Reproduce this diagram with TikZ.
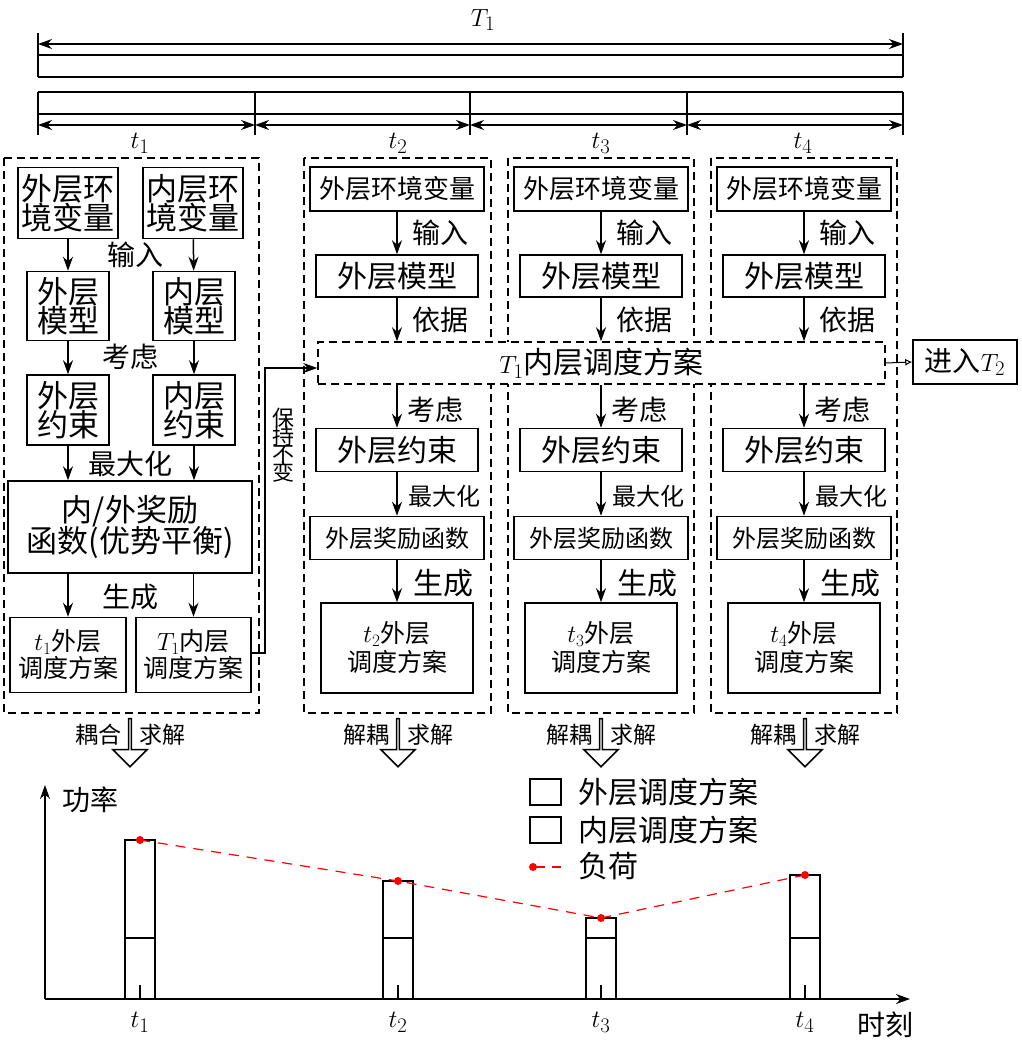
\documentclass[tikz,border=0pt]{standalone}
\usepackage{fontspec}
\setmainfont{Noto Sans CJK SC}
\usetikzlibrary{arrows.meta, positioning, shapes.arrows}
\newcommand\fs[1]{\fontsize{#1}{#1}\selectfont}

\begin{document}
\begin{tikzpicture}[x=1pt, y=-1pt, line width=1.5pt,
    >={Stealth[length=14pt, width=10pt]},
    box/.style={draw, inner sep=0pt, align=center},
    lab/.style={inner sep=0pt, font=\fs{26}},
    frame/.style={draw, dashed, dash pattern=on 8pt off 5pt},
    hollow/.style={single arrow, draw, shape border rotate=270, minimum height=48pt,
        minimum width=34pt, single arrow head extend=8pt, inner sep=0pt},
    bar/.style={draw, line width=1.5pt}]

    \useasboundingbox (0,0) rectangle (1021,1044);

    % Time bars
    \node at (483,20) [lab, font=\fs{32}] (T1) {$T_1$};
    \draw (38,33) -- (38,77) (903,33) -- (903,77);
    \draw[<->] (38,44) -- (903,44);
    \draw (38,55) -- (903,55) (38,77) -- (903,77);
    \draw (38,92) -- (903,92) (38,114) -- (903,114);
    \foreach \x in {38,255,470,687,903} \draw (\x,92) -- (\x,135);
    \draw[<->] (38,125) -- (255,125);
    \draw[<->] (255,125) -- (470,125);
    \draw[<->] (470,125) -- (687,125);
    \draw[<->] (687,125) -- (903,125);
    \node at (140,143) [lab, font=\fs{30}] (lt1) {$t_1$};
    \node at (398,143) [lab, font=\fs{30}] (lt2) {$t_2$};
    \node at (601,143) [lab, font=\fs{30}] (lt3) {$t_3$};
    \node at (803,143) [lab, font=\fs{30}] (lt4) {$t_4$};

    % Frames
    \draw[frame] (4,158) rectangle (259,713);
    \draw[frame] (304,158) rectangle (491,713);
    \draw[frame] (508,158) rectangle (694,713);
    \draw[frame] (711,158) rectangle (897,713);
    \node at (601.5,363) [box, frame, fill=white, minimum width=567pt, minimum height=42pt, font=\fs{30}] (plan) {$T_1$内层调度方案};

    % t1 coupled
    \node at (68,203) [box, minimum width=100pt, minimum height=71pt, font=\fs{31}] (oenv) {外层环\\[-2pt]境变量};
    \node at (193,203) [box, minimum width=100pt, minimum height=71pt, font=\fs{31}] (ienv) {内层环\\[-2pt]境变量};
    \node at (68,306) [box, minimum width=82pt, minimum height=69pt, font=\fs{31}] (omod) {外层\\[-2pt]模型};
    \node at (194,306) [box, minimum width=82pt, minimum height=69pt, font=\fs{31}] (imod) {内层\\[-2pt]模型};
    \node at (68,410) [box, minimum width=82pt, minimum height=70pt, font=\fs{31}] (ocon) {外层\\[-2pt]约束};
    \node at (194,410) [box, minimum width=82pt, minimum height=70pt, font=\fs{31}] (icon) {内层\\[-2pt]约束};
    \node at (130,527) [box, minimum width=244pt, minimum height=92pt, font=\fs{31}] (rew) {内/外奖励\\[-2pt]函数(优势平衡)};
    \node at (68,655) [box, minimum width=116pt, minimum height=75pt, font=\fs{25}] (oplan) {$t_1$外层\\[2pt]调度方案};
    \node at (193.5,655) [box, minimum width=115pt, minimum height=75pt, font=\fs{25}] (iplan) {$T_1$内层\\[2pt]调度方案};

    \draw[->] (oenv) -- (omod);
    \draw[->] (ienv) -- (imod);
    \draw[->] (omod) -- (ocon);
    \draw[->] (imod) -- (icon);
    \draw[->] (ocon) -- (ocon |- rew.north);
    \draw[->] (icon) -- (icon |- rew.north);
    \draw[->] (rew.south -| oplan) -- (oplan);
    \draw[->] (rew.south -| iplan) -- (iplan);
    \node at (135,255) [lab, font=\fs{28}] {输入};
    \node at (130,357) [lab, font=\fs{28}] {考虑};
    \node at (130,464) [lab, font=\fs{28}] {最大化};
    \node at (130,597) [lab, font=\fs{28}] {生成};

    \draw[->] (iplan.east |- 0,653) -- (265,653) -- (265,368) -- (plan.west |- 0,368);
    \node at (283,445) [lab, font=\fs{22}, align=center] (keep) {保\\[-4pt]持\\[-4pt]不\\[-4pt]变};

    % t2..t4 decoupled
    \foreach \cx/\n in {397/2, 601/3, 804/4} {
        \node at (\cx,189) [box, minimum width=174pt, minimum height=44pt, font=\fs{26}] (env\n) {外层环境变量};
        \node at (\cx,276) [box, minimum width=162pt, minimum height=42pt, font=\fs{30}] (mod\n) {外层模型};
        \node at (\cx,450) [box, minimum width=162pt, minimum height=43pt, font=\fs{30}] (con\n) {外层约束};
        \node at (\cx,538) [box, minimum width=174pt, minimum height=43pt, font=\fs{24}] (rw\n) {外层奖励函数};
        \node at (\cx,648) [box, minimum width=152pt, minimum height=90pt, font=\fs{25}] (pl\n) {$t_\n$外层\\[4pt]调度方案};
        \draw[->] (env\n) -- (mod\n);
        \draw[->] (mod\n) -- (mod\n |- plan.north);
        \draw[->] (plan.south -| con\n) -- (con\n);
        \draw[->] (con\n) -- (rw\n);
        \draw[->] (rw\n) -- (pl\n);
        \node at (\cx+43,233) [lab, font=\fs{28}] {输入};
        \node at (\cx+43,320) [lab, font=\fs{28}] {依据};
        \node at (\cx+38,410) [lab, font=\fs{28}] {考虑};
        \node at (\cx+47,496) [lab, font=\fs{24}] {最大化};
        \node at (\cx+46,583) [lab, font=\fs{30}] {生成};
    }

    \node at (965,362) [box, minimum width=104pt, minimum height=44pt, font=\fs{28}] (next) {进入$T_2$};
    \draw[-{Latex[open, length=7pt, width=7pt]}, line width=1pt] (plan.east) -- (next.west);

    % solve arrows
    \node at (130,742) [hollow] (s1) {};
    \node at (398,742) [hollow] (s2) {};
    \node at (601,742) [hollow] (s3) {};
    \node at (805,742) [hollow] (s4) {};
    \node at (s1.center) [lab, font=\fs{23}, xshift=-32pt, yshift=7pt] {耦合};
    \node at (s1.center) [lab, font=\fs{23}, xshift=32pt, yshift=7pt] {求解};
    \foreach \s in {s2,s3,s4} {
        \node at (\s.center) [lab, font=\fs{23}, xshift=-32pt, yshift=7pt] {解耦};
        \node at (\s.center) [lab, font=\fs{23}, xshift=32pt, yshift=7pt] {求解};
    }

    % chart
    \draw[->] (45,999) -- (45,785);
    \draw[->] (45,999) -- (910,999);
    \node at (90,800) [lab, font=\fs{28}] (ylab) {功率};
    \node at (885,1025) [lab, font=\fs{28}] (xlab) {时刻};
    \foreach \cx/\top/\n in {140/840/1, 398/881/2, 601/918/3, 805/875/4} {
        \draw[bar] (\cx-15,999) rectangle (\cx+15,\top);
        \draw (\cx-15,938) -- (\cx+15,938);
        \draw (\cx,985) -- (\cx,999);
        \node at (\cx,1022) [lab, font=\fs{30}] (tx\n) {$t_\n$};
        \coordinate (ld\n) at (\cx,\top);
    }
    \draw[red, dashed, dash pattern=on 10pt off 8pt, line width=1.2pt] (ld1) -- (ld2) -- (ld3) -- (ld4);
    \foreach \n in {1,2,3,4} \fill[red] (ld\n) circle (4pt);

    % legend
    \draw (530,779) rectangle (561,805);
    \draw (530,817) rectangle (561,843);
    \draw[red, line width=1.2pt] (533,867) -- (545,867) (552,867) -- (561,867);
    \fill[red] (533,867) circle (4pt);
    \node at (578,792) [lab, anchor=west, font=\fs{30}] (lg1) {外层调度方案};
    \node at (578,830) [lab, anchor=west, font=\fs{30}] (lg2) {内层调度方案};
    \node at (578,866) [lab, anchor=west, font=\fs{30}] (lg3) {负荷};

\end{tikzpicture}
\end{document}
